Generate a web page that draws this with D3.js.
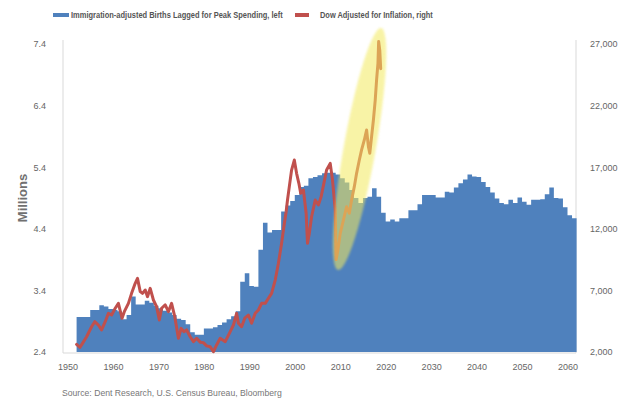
<!DOCTYPE html>
<html>
<head>
<meta charset="utf-8">
<script src="https://cdn.jsdelivr.net/npm/d3@7"></script>
<style>
  body { margin: 0; background: #fff; }
  svg { display: block; font-family: "Liberation Sans", Arial, sans-serif; }
  .tick text { fill: #666; font-size: 9px; }
</style>
</head>
<body>
<div id="chart"></div>
<script>
// Immigration-adjusted births (millions), one value per year starting 1952
const birthStart = 1952;
const births = [
  2.97, 2.97, 2.97, 3.08, 3.08, 3.16, 3.14, 3.10,
  3.08, 3.06, 2.93, 3.00, 3.30, 3.17, 3.17, 3.23, 3.20, 3.15,
  3.11, 3.07, 3.04, 3.00, 2.94, 2.92, 2.85, 2.72, 2.68, 2.68,
  2.78, 2.78, 2.80, 2.84, 2.88, 2.93, 2.98, 3.06, 3.54, 3.68,
  3.47, 3.46, 4.06, 4.50, 4.34, 4.38, 4.38, 4.68, 4.78, 4.85,
  4.95, 5.08, 5.10, 5.22, 5.24, 5.27, 5.30, 5.31, 5.31, 5.28,
  5.22, 5.15, 5.03, 4.90, 4.82, 4.90, 4.92, 5.06, 4.92, 4.66,
  4.52, 4.55, 4.52, 4.57, 4.57, 4.70, 4.70, 4.80, 4.95, 4.95,
  4.95, 4.91, 4.91, 5.00, 4.99, 5.07, 5.14, 5.20, 5.28, 5.25,
  5.24, 5.16, 5.08, 4.99, 4.89, 4.82, 4.80, 4.87, 4.82, 4.91,
  4.84, 4.79, 4.87, 4.87, 4.88, 4.96, 5.07, 4.90, 4.89, 4.75,
  4.62, 4.57
];

// Dow adjusted for inflation (right axis)
const dowYears = [
  1952.0, 1952.75, 1953.3, 1954.2, 1955.3, 1956.0, 1956.8, 1957.5, 1958.3, 1959.0,
  1959.7, 1960.5, 1961.2, 1962.0, 1962.5, 1963.4, 1964.1, 1964.9, 1965.4, 1966.0,
  1966.5, 1967.1, 1967.6, 1968.2, 1968.9, 1969.6, 1970.2, 1970.7, 1971.5, 1972.2,
  1972.9, 1973.6, 1974.4, 1975.0, 1975.6, 1976.2, 1977.0, 1977.7, 1978.4, 1979.2,
  1979.9, 1980.6, 1981.4, 1982.1, 1982.8, 1983.6, 1984.7, 1985.8, 1986.5, 1987.2,
  1987.6, 1988.3, 1989.0, 1989.8, 1990.5, 1991.3, 1992.0, 1992.7, 1993.5, 1994.2,
  1994.9, 1995.7, 1996.4, 1997.1, 1997.6, 1998.1, 1998.4, 1998.8, 1999.3, 1999.9,
  2000.4, 2000.9, 2001.3, 2001.9, 2002.5, 2002.8, 2003.2, 2003.7, 2004.5, 2005.2,
  2005.8, 2006.4, 2007.0, 2007.8, 2008.3, 2008.9, 2009.1, 2009.5, 2010.0, 2010.7,
  2011.4, 2012.0, 2012.5, 2013.1, 2013.6, 2014.2, 2014.7, 2015.3, 2015.8, 2016.2,
  2016.5, 2016.9, 2017.3, 2017.7, 2018.0, 2018.3, 2018.45, 2018.7, 2018.9
];
const dowValues = [
  2620, 2380, 2700, 3240, 4050, 4460, 4190, 3790, 4460, 5140,
  5000, 5550, 5950, 4740, 5270, 5950, 6760, 7580, 7980, 6900,
  6760, 7030, 6490, 7170, 6220, 5680, 4600, 5550, 5820, 5270,
  5950, 4870, 3110, 3920, 3650, 3790, 3240, 2840, 3110, 2800,
  2760, 2500, 2430, 2020, 2570, 3110, 2840, 3650, 4190, 5140,
  4330, 4050, 4740, 5000, 4330, 5140, 5410, 5950, 5950, 6360,
  6760, 7840, 9200, 10820, 12170, 13390, 14340, 15420, 16770, 17580,
  16500, 15690, 14880, 15150, 13260, 10820, 11630, 12980, 14340, 13930,
  14610, 15690, 16770, 17310, 15960, 13530, 9500, 10300, 11630, 12710,
  13790, 13260, 14340, 15420, 16500, 17580, 18400, 19210, 20020, 18670,
  18130, 19480, 20830, 22450, 24080, 25430, 27200, 26500, 25000
];

const leftTicks = [2.4, 3.4, 4.4, 5.4, 6.4, 7.4];
const rightTicks = [2000, 7000, 12000, 17000, 22000, 27000];
const yearTicks = [1950, 1960, 1970, 1980, 1990, 2000, 2010, 2020, 2030, 2040, 2050, 2060];

// highlight ellipse ends (year, Dow)
const highlightEnds = [[2009.5, 8650], [2019.0, 28300]];

const width = 618, height = 399;
const plot = { left: 63, right: 576, top: 40, bottom: 353 };

const svg = d3.select("#chart").append("svg")
  .attr("width", width).attr("height", height);

const x = d3.scaleLinear().domain([1950, 2060]).range([67.5, 567.5]);
const yL = d3.scaleLinear().domain([2.4, 7.4]).range([352, 44]);
const yR = d3.scaleLinear().domain([2000, 27000]).range([352, 44]);

// frame lines
svg.append("path")
  .attr("d", `M${plot.left},${plot.top}V${plot.bottom}H${plot.right}V${plot.top}`)
  .attr("fill", "none").attr("stroke", "#d9d9d9").attr("stroke-width", 1);

// blue step area
const birthPts = births.map((v, i) => [birthStart + i, v]);
birthPts.push([birthStart + births.length, births[births.length - 1]]);
svg.append("path")
  .datum(birthPts)
  .attr("fill", "#4f81bd")
  .attr("d", d3.area()
    .curve(d3.curveStepAfter)
    .x(d => x(d[0]))
    .y0(yL(2.4))
    .y1(d => yL(d[1])));

// red Dow line
const dowPts = dowYears.map((yr, i) => [yr, dowValues[i]]);
svg.append("path")
  .datum(dowPts)
  .attr("fill", "none")
  .attr("stroke", "#c0504d")
  .attr("stroke-width", 3)
  .attr("stroke-linejoin", "round")
  .attr("stroke-linecap", "round")
  .attr("d", d3.line().x(d => x(d[0])).y(d => yR(d[1])));

// yellow highlight ellipse
const defs = svg.append("defs");
defs.append("filter").attr("id", "soft")
  .append("feGaussianBlur").attr("stdDeviation", 1.2);
const [p0, p1] = highlightEnds.map(d => [x(d[0]), yR(d[1])]);
const cx = (p0[0] + p1[0]) / 2, cy = (p0[1] + p1[1]) / 2;
const len = Math.hypot(p1[0] - p0[0], p1[1] - p0[1]) / 2;
const ang = Math.atan2(p1[0] - p0[0], p0[1] - p1[1]) * 180 / Math.PI;
svg.append("ellipse")
  .attr("cx", cx).attr("cy", cy)
  .attr("rx", 16).attr("ry", len)
  .attr("transform", `rotate(${ang},${cx},${cy})`)
  .attr("fill", "#f3ea5e")
  .attr("opacity", 0.55)
  .attr("filter", "url(#soft)");

// axes
const axL = svg.append("g")
  .attr("transform", `translate(${plot.left},0)`)
  .call(d3.axisLeft(yL).tickValues(leftTicks).tickSize(0).tickPadding(17).tickFormat(d3.format(".1f")));
axL.select(".domain").remove();

const axR = svg.append("g")
  .attr("transform", `translate(${plot.right},0)`)
  .call(d3.axisRight(yR).tickValues(rightTicks).tickSize(0).tickPadding(14).tickFormat(d3.format(",")));
axR.select(".domain").remove();

const axB = svg.append("g")
  .attr("transform", `translate(0,${plot.bottom})`)
  .call(d3.axisBottom(x).tickValues(yearTicks).tickSize(0).tickPadding(11).tickFormat(d3.format("d")));
axB.select(".domain").remove();

svg.selectAll(".tick text").attr("font-family", "\"Liberation Sans\", Arial, sans-serif");

// y label
svg.append("text")
  .attr("transform", "translate(27,198) rotate(-90)")
  .attr("text-anchor", "middle")
  .attr("font-size", 13)
  .attr("font-weight", "bold")
  .attr("fill", "#707070")
  .text("Millions");

// squeeze a text horizontally so it spans the given width
function fitText(sel, x0, y0, w) {
  const natural = sel.node().getComputedTextLength();
  sel.attr("transform", `translate(${x0},${y0}) scale(${w / natural},1)`);
}

// legend
const legend = [
  { label: "Immigration-adjusted Births Lagged for Peak Spending, left", color: "#4f81bd", sx: 53, sw: 16, tx: 71, tw: 212 },
  { label: "Dow Adjusted for Inflation, right", color: "#c0504d", sx: 295, sw: 14, tx: 320, tw: 113 }
];
legend.forEach(d => {
  svg.append("rect")
    .attr("x", d.sx).attr("y", 13).attr("width", d.sw).attr("height", 4)
    .attr("fill", d.color);
  const t = svg.append("text")
    .attr("font-size", 9.5)
    .attr("font-weight", "bold")
    .attr("fill", "#555")
    .text(d.label);
  fitText(t, d.tx, 18, d.tw);
});

// source
const src = svg.append("text")
  .attr("font-size", 9)
  .attr("fill", "#777")
  .text("Source: Dent Research, U.S. Census Bureau, Bloomberg");
fitText(src, 62, 396, 220);
</script>
</body>
</html>
